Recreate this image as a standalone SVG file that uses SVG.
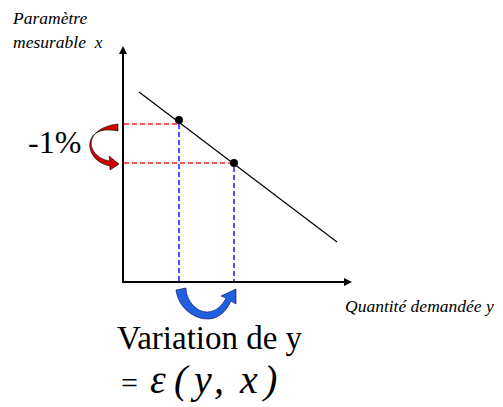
<svg xmlns="http://www.w3.org/2000/svg" width="503" height="407" viewBox="0 0 503 407">
<defs>
<style>
.lbl{font-family:'Times New Roman','Liberation Serif',serif;font-style:italic;font-size:17.5px;fill:#000}
.big{font-family:'Times New Roman','Liberation Serif',serif;font-size:33px;fill:#000}
.ax{stroke:#000;stroke-width:2;fill:none}
.rd{stroke:#ff1a1a;stroke-width:1.5;stroke-dasharray:5,3;fill:none}
.bd{stroke:#1a1aff;stroke-width:1.5;stroke-dasharray:5,3;fill:none}
</style>
<marker id="ah" markerWidth="8" markerHeight="8" refX="6" refY="4" orient="auto" markerUnits="userSpaceOnUse">
<path d="M0,0 L8,4 L0,8 Z" fill="#000"/>
</marker>
</defs>
<rect width="503" height="407" fill="#fff"/>
<g id="connectors">
<line class="ax" x1="123" y1="282" x2="123" y2="48" marker-end="url(#ah)"/>
<line class="ax" x1="122" y1="282" x2="350" y2="282" marker-end="url(#ah)"/>
<line x1="139" y1="92" x2="337" y2="242" stroke="#000" stroke-width="1.2"/>
<line class="rd" x1="124" y1="124" x2="179" y2="124"/>
<line class="rd" x1="124" y1="163" x2="234" y2="163"/>
<line class="bd" x1="179" y1="124" x2="179" y2="281"/>
<line class="bd" x1="234" y1="167" x2="234" y2="281"/>
</g>
<g id="points">
<circle cx="179" cy="120" r="4" fill="#000"/>
<circle cx="234" cy="163" r="4" fill="#000"/>
</g>
<g id="red-arrow">
<path d="M118,124 C100,126 88,136 92,148 C95,156 103,160 110,161 L109,156 L119,164 L110,170 L110,166 C100,164 92,158 90,148 C88,134 100,127 118,131 Z" fill="#d00000" stroke="#000" stroke-width="0.6"/>
</g>
<g id="blue-arrow">
<path d="M176,290 L186,288 C186,300 196,312 207,312 C218,312 224,302 226,298 L221,296 L236,289 L236,304 L231,301 C226,312 218,319 208,319 C192,319 178,306 176,290 Z" fill="#2060e0" stroke="#000060" stroke-width="0.6"/>
</g>
<g id="labels">
<text class="lbl" x="13" y="24">Paramètre</text>
<text class="lbl" x="13" y="48" xml:space="preserve">mesurable  x</text>
<text class="lbl" x="345" y="312">Quantité demandée y</text>
<text class="big" x="28" y="153" style="font-size:32px">-1%</text>
<text class="big" x="117" y="349">Variation de y</text>
<text class="big" x="121" y="393" style="font-size:30px">=</text>
<text class="big" style="font-size:40px;font-style:italic" y="393"><tspan x="150">ε</tspan><tspan x="174">(</tspan><tspan x="194">y</tspan><tspan x="214">,</tspan><tspan x="240">x</tspan><tspan x="264">)</tspan></text>
</g>
</svg>
